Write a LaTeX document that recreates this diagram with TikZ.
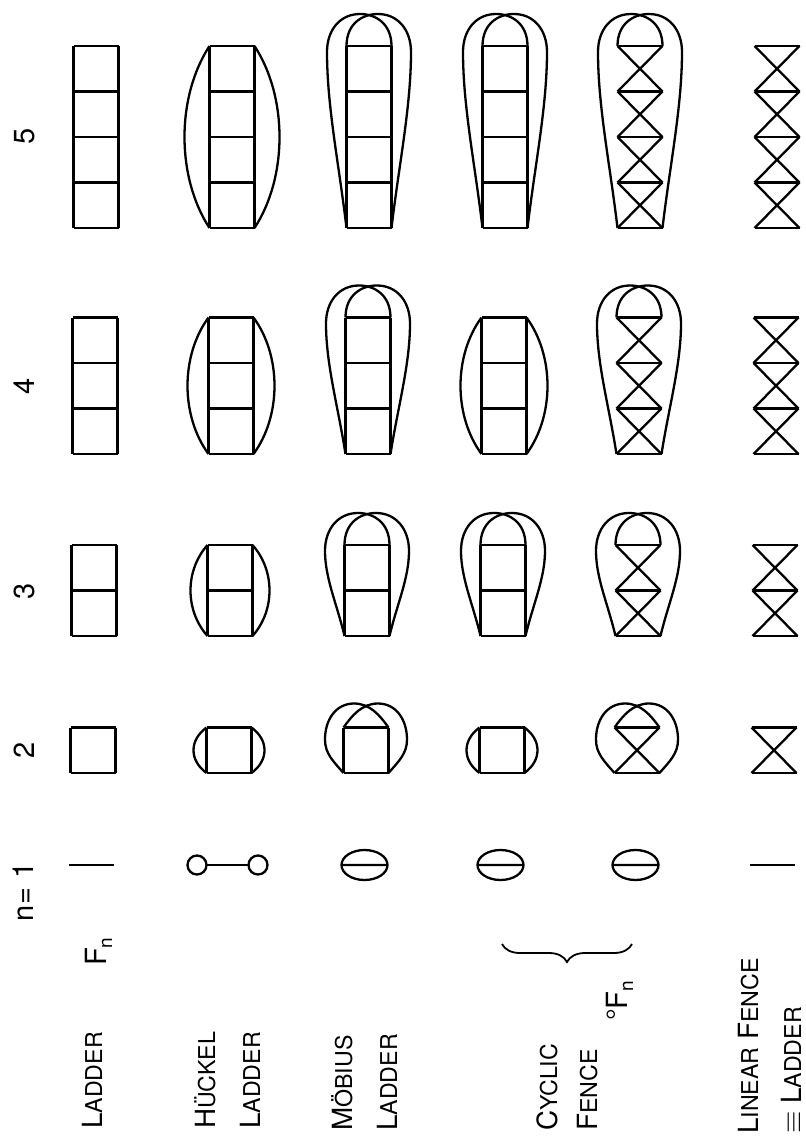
\documentclass[tikz,border=0pt]{standalone}
\usepackage{fontspec}
\setsansfont{TeX Gyre Heros}
\usetikzlibrary{decorations.pathreplacing}

% hand-made small capitals and a lowered index
\newcommand{\smc}[1]{{\fontsize{11.6}{12}\selectfont #1}}
\newcommand{\idx}[1]{\raisebox{-3pt}{\fontsize{9.5}{10}\selectfont #1}}
\newcommand{\cellh}{45.5}

% ladder: centre x, bottom y, number of rungs
\newcommand{\ladder}[3]{%
  \pgfmathsetmacro{\topy}{#2-\cellh*(#3-1)}
  \draw ({#1-22.5},\topy) -- ({#1-22.5},#2) ({#1+22.5},\topy) -- ({#1+22.5},#2);
  \foreach \k in {1,...,#3}
    \draw ({#1-22.5},{#2-\cellh*(\k-1)}) -- ++(45,0);
}

% fence: rungs, crossed in every cell
\newcommand{\fence}[3]{%
  \foreach \k in {1,...,#3}
    \draw ({#1-22.5},{#2-\cellh*(\k-1)}) -- ++(45,0);
  \foreach \k in {2,...,#3}
    \draw ({#1-22.5},{#2-\cellh*(\k-2)}) -- ({#1+22.5},{#2-\cellh*(\k-1)})
          ({#1+22.5},{#2-\cellh*(\k-2)}) -- ({#1-22.5},{#2-\cellh*(\k-1)});
}

% Hueckel ladder: ends joined by two side arcs
\newcommand{\hueckel}[3]{%
  \ladder{#1}{#2}{#3}
  \pgfmathsetmacro{\bulge}{4/3*(5+4*#3)}
  \pgfmathsetmacro{\hand}{0.28*(#2-\topy)}
  \foreach \s in {1,-1}
    \draw ({#1+(\s)*22.5},\topy) .. controls ({#1+(\s)*(22.5+\bulge)},{\topy+\hand})
      and ({#1+(\s)*(22.5+\bulge)},{#2-\hand}) .. ({#1+(\s)*22.5},#2);
}

% Moebius twist: top corner round the outside to the opposite bottom corner
\newcommand{\twist}[3]{%
  \pgfmathsetmacro{\topy}{#2-\cellh*(#3-1)}
  \pgfmathsetmacro{\len}{#2-\topy}
  \foreach \s in {1,-1}{
    \ifnum#3=2
      \draw ({#1-(\s)*22.5},\topy) .. controls ({#1-(\s)*14},{\topy-12}) and ({#1-(\s)*4},{\topy-24}) .. ({#1+(\s)*12},{\topy-24})
        .. controls ({#1+(\s)*30},{\topy-24}) and ({#1+(\s)*41},{\topy-8}) .. ({#1+(\s)*41},{\topy+12})
        .. controls ({#1+(\s)*41},{\topy+26}) and ({#1+(\s)*33},{#2-12}) .. ({#1+(\s)*22.5},#2);
    \else
      \draw ({#1-(\s)*22.5},\topy) .. controls ({#1-(\s)*22.5},{\topy-22}) and ({#1-(\s)*7},{\topy-32}) .. ({#1+(\s)*9},{\topy-32})
        .. controls ({#1+(\s)*29},{\topy-32}) and ({#1+(\s)*42},{\topy-16}) .. ({#1+(\s)*42},{\topy+6})
        .. controls ({#1+(\s)*42},{\topy+6+0.3*\len}) and ({#1+(\s)*30},{#2-0.35*\len}) .. ({#1+(\s)*22.5},#2);
    \fi
  }
}
\newcommand{\moebius}[3]{\ladder{#1}{#2}{#3}\twist{#1}{#2}{#3}}
\newcommand{\cycfence}[3]{\fence{#1}{#2}{#3}\twist{#1}{#2}{#3}}

\begin{document}
\begin{tikzpicture}[x=0.5pt, y=-0.5pt, line width=1.15pt,
  lbl/.style={rotate=90, anchor=base west, inner sep=0pt,
    font=\sffamily\fontsize{13.9}{14}\selectfont},
  num/.style={rotate=90, anchor=base, inner sep=0pt,
    font=\sffamily\fontsize{14.5}{15}\selectfont}]
\useasboundingbox (0,0) rectangle (806,1141);

% n = 5
\ladder{96}{228}{5}
\hueckel{232}{228}{5}
\moebius{369}{228}{5}
\moebius{505}{228}{5}
\cycfence{640}{228}{5}
\fence{777}{228}{5}
% n = 4
\ladder{95}{454}{4}
\hueckel{231}{454}{4}
\moebius{368}{454}{4}
\hueckel{504}{454}{4}
\cycfence{639}{454}{4}
\fence{776}{454}{4}
% n = 3
\ladder{94}{636}{3}
\hueckel{230}{636}{3}
\moebius{367}{636}{3}
\moebius{503}{636}{3}
\cycfence{638}{636}{3}
\fence{775}{636}{3}
% n = 2
\ladder{93}{773}{2}
\hueckel{229}{773}{2}
\moebius{366}{773}{2}
\hueckel{502}{773}{2}
\cycfence{637}{773}{2}
\fence{774}{773}{2}
% n = 1
\draw (69,865) -- (114,865);
\draw (227.5,865) ++(-30.5,0) circle[radius=9.5] ++(61,0) circle[radius=9.5];
\draw (206.5,865) -- (248.5,865);
\foreach \c in {364.5,500.5,635.5}
  \draw (\c,865) ellipse[x radius=23, y radius=15] (\c-23,865) -- (\c+23,865);
\draw (750,865) -- (795,865);

% row numbers
\node[num, anchor=base east] (n1) at (33,861) {n=\,\,1};
\node[num] (n2) at (34,750) {2};
\node[num] (n3) at (34,591) {3};
\node[num] (n4) at (34,386) {4};
\node[num] (n5) at (34,136) {5};

% names of the graphs
\node[lbl] (lad) at (102,1130) {L\smc{ADDER}};
\node[lbl, font=\sffamily\fontsize{14.6}{15}\selectfont] (fn) at (106,967) {F\idx{n}};
\node[lbl] (huc) at (215,1130) {H\smc{ÜCKEL}};
\node[lbl] (hucl) at (260,1130) {L\smc{ADDER}};
\node[lbl] (moe) at (352,1132) {M\smc{ÖBIUS}};
\node[lbl] (moel) at (397,1132) {L\smc{ADDER}};
\node[lbl] (cyc) at (557,1132) {C\smc{YCLIC}};
\node[lbl] (cycf) at (597,1132) {F\smc{ENCE}};
\node[lbl, font=\sffamily\fontsize{14.6}{15}\selectfont] (cfn) at (627,1022) {°F\idx{n}};
\node[lbl] (lin) at (758,1135) {L\smc{INEAR} F\smc{ENCE}};
\node[lbl] (linl) at (801,1135) {$\equiv$ L\smc{ADDER}};

\draw[line width=0.9pt, decorate, decoration={brace, amplitude=9pt}]
  (632,944) -- (502,944);
\end{tikzpicture}
\end{document}
